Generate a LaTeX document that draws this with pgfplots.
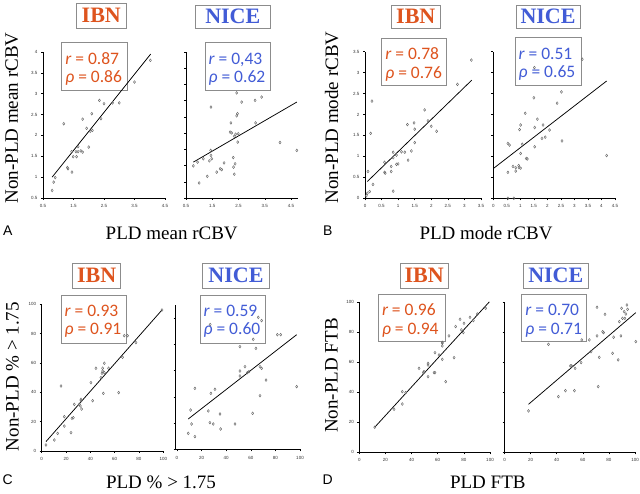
\documentclass[border=0pt]{standalone}
\usepackage{fontspec}
\setmainfont{Liberation Serif}
\setsansfont{Liberation Sans}
\newfontfamily\calibri{Carlito}
\usepackage{pgfplots}
\pgfplotsset{compat=1.18}

\definecolor{ibn}{RGB}{222,84,30}
\definecolor{nice}{RGB}{66,92,214}
\definecolor{boxgray}{RGB}{140,140,140}
\definecolor{dotgray}{RGB}{105,105,105}

\pgfplotsset{
  panel/.style={
    scale only axis, anchor=south west,
    axis lines*=left, axis line style={-, line width=0.7pt},
    enlargelimits=false, clip=false,
    tick align=outside, major tick length=2pt,
    tick style={black, line width=0.5pt},
    tick label style={font=\sffamily\fontsize{4.5}{5}\selectfont, text=black!80},
    xticklabel style={yshift=-1pt},
    /pgf/number format/assume math mode=true,
  },
  pts/.style={only marks, mark=diamond, mark size=1.4pt,
    mark options={draw=dotgray, line width=0.45pt}},
  fit/.style={no marks, black, line width=0.75pt},
}

% stat box: left, top, right, bottom (pixels from top), colour, r, rho
\newcommand\statbox[7]{%
  \draw[boxgray, line width=0.6pt, fill=white] (#1,494-#2) rectangle (#3,494-#4);
  \node[anchor=base west, inner sep=0pt, text=#5, font=\calibri\fontsize{17.5}{18}\selectfont]
    at (#1+3.5,494-#2-21.5) {{\itshape r} = #6};
  \node[anchor=base west, inner sep=0pt, text=#5, font=\calibri\fontsize{17.5}{18}\selectfont]
    at (#1+3.5,494-#2-40) {{\itshape ρ} = #7};
}
% title box: centre x, centre y (pixels from top), width, height, colour, text
\newcommand\titlebox[6]{%
  \node[draw=boxgray, line width=0.6pt, fill=white, inner sep=0pt,
    minimum width=#3pt, minimum height=#4pt, text=#5,
    font=\bfseries\fontsize{22}{22}\selectfont] at (#1,494-#2) {#6};
}

\begin{document}
\begin{tikzpicture}
\useasboundingbox (0,0) rectangle (640pt,494pt);

\begin{scope}[x=1pt,y=1pt]
  \titlebox{101.3}{15.8}{49.3}{25}{ibn}{IBN}
  \titlebox{232.8}{16.7}{74.3}{23.3}{nice}{NICE}
  \titlebox{415.8}{16.7}{48.3}{23.3}{ibn}{IBN}
  \titlebox{548}{16.7}{64}{23.3}{nice}{NICE}
  \titlebox{96.7}{275.8}{48}{25}{ibn}{IBN}
  \titlebox{236}{275.8}{66.6}{25}{nice}{NICE}
  \titlebox{424.2}{275.8}{48.3}{25}{ibn}{IBN}
  \titlebox{555.8}{275.8}{65}{25}{nice}{NICE}

  \statbox{61.7}{42.7}{127.3}{90}{ibn}{0.87}{0.86}
  \statbox{205}{42.7}{270.7}{90}{nice}{0,43}{0.62}
  \statbox{381.7}{38.3}{446}{85}{ibn}{0.78}{0.76}
  \statbox{515}{37.7}{581}{85}{nice}{0.51}{0.65}
  \statbox{61}{295}{126}{343.3}{ibn}{0.93}{0.91}
  \statbox{200}{295}{265.7}{343.3}{nice}{0.59}{0.60}
  \statbox{378.3}{294.3}{445}{341.7}{ibn}{0.96}{0.94}
  \statbox{521.7}{294.3}{586.7}{341.7}{nice}{0.70}{0.71}

  \begin{scope}[font=\fontsize{19}{19}\selectfont]
    \node[rotate=90] at (11.7,494-118) {Non-PLD mean rCBV};
    \node[rotate=90] at (331.7,494-117.5) {Non-PLD mode rCBV};
    \node[rotate=90] at (12.5,494-376.7) {Non-PLD \% > 1.75};
    \node[rotate=90] at (331.5,494-375.5) {Non-PLD FTB};
    \node at (171.7,494-233.5) {PLD mean rCBV};
    \node at (486,494-233) {PLD mode rCBV};
    \node at (161,494-482) {PLD \% > 1.75};
    \node at (487.8,494-482) {PLD FTB};
  \end{scope}
  \begin{scope}[font=\sffamily\fontsize{14}{14}\selectfont]
    \node at (7.8,494-230.5) {A};
    \node at (327.8,494-230.5) {B};
    \node at (7.8,494-480) {C};
    \node at (327.8,494-480) {D};
  \end{scope}
\end{scope}

% A IBN
\begin{axis}[panel, at={(43pt,296pt)}, width=122pt, height=146pt,
  xmin=0.5, xmax=4.5, ymin=0.5, ymax=4,
  xtick={0.5,1.5,2.5,3.5,4.5}, ytick={0.5,1,1.5,2,2.5,3,3.5,4}]
\addplot[pts] coordinates {(0.8,0.68) (0.85,0.88) (0.9,0.99) (1.18,2.28) (1.3,1.23)
  (1.32,1.2) (1.45,1.12) (1.44,1.61) (1.49,1.49) (1.58,1.61) (1.6,1.49) (1.65,1.73)
  (1.65,1.61) (1.74,1.63) (1.8,1.6) (1.8,2.39) (1.93,2.17) (2.0,1.72) (2.05,2.1)
  (2.1,2.52) (2.12,2.12) (2.35,2.84) (2.4,2.4) (2.5,2.76) (2.78,2.78) (3.0,2.78)
  (3.5,3.28) (4.02,3.8)};
\addplot[fit] coordinates {(0.8,1.0) (4.03,3.95)};
\end{axis}

% A NICE
\begin{axis}[panel, at={(186pt,296pt)}, width=111.6pt, height=146pt,
  xmin=0.5, xmax=4.75, ymin=0.5, ymax=4,
  xtick={0.5,1.5,2.5,3.5,4.5},
  ytick={0.5,0.889,1.278,1.667,2.056,2.444,2.833,3.222,3.611,4}, yticklabels={}]
\addplot[pts] coordinates {(0.78,1.27) (0.94,1.36) (1.0,0.86) (1.16,1.44) (1.31,1.02)
  (1.39,1.39) (1.44,1.64) (1.45,1.52) (1.48,1.44) (1.45,2.68) (1.67,1.12) (1.8,1.2)
  (1.86,1.18) (1.95,1.34) (2.18,2.08) (2.21,2.3) (2.24,2.06) (2.3,1.47) (2.31,1.24)
  (2.34,1.98) (2.37,1.32) (2.34,1.07) (2.39,2.03) (2.43,3.02) (2.46,2.52) (2.43,2.47)
  (2.47,1.84) (2.49,2.04) (2.62,2.8) (3.13,2.84) (3.15,2.3) (3.38,2.92) (4.08,1.83)
  (4.72,1.64)};
\addplot[fit] coordinates {(0.78,1.36) (4.72,2.8)};
\end{axis}

% B IBN
\begin{axis}[panel, at={(365pt,295.7pt)}, width=116pt, height=146.6pt,
  xmin=0, xmax=3.5, ymin=0, ymax=3.5,
  xtick={0,0.5,1,1.5,2,2.5,3,3.5}, ytick={0,0.5,1,1.5,2,2.5,3,3.5}]
\addplot[pts] coordinates {(0.04,0.06) (0.07,0.12) (0.09,0.64) (0.14,0.16) (0.17,1.55)
  (0.21,2.32) (0.24,0.33) (0.59,0.86) (0.59,0.62) (0.61,0.6) (0.79,0.76) (0.79,0.64)
  (0.85,1.1) (0.85,0.97) (0.85,0.17) (0.95,1.03) (0.95,0.81) (1.0,0.82) (1.1,1.11)
  (1.2,1.1) (1.28,1.76) (1.3,0.91) (1.4,1.13) (1.48,1.8) (1.5,1.65) (1.5,1.33)
  (1.8,2.11) (1.9,1.85) (2.0,1.72) (2.16,1.6) (2.79,2.72) (3.21,3.3)};
\addplot[fit] coordinates {(0.07,0.4) (3.22,2.82)};
\end{axis}

% B NICE
\begin{axis}[panel, at={(493.3pt,295.7pt)}, width=121.7pt, height=146.6pt,
  xmin=0, xmax=4.5, ymin=0, ymax=3.5,
  xtick={0,0.5,1,1.5,2,2.5,3,3.5,4,4.5}, ytick={0,0.5,1,1.5,2,2.5,3,3.5}, yticklabels={}]
\addplot[pts] coordinates {(0.54,1.31) (0.6,1.27) (0.54,0.62) (0.54,0.0) (0.76,0.0)
  (0.73,0.76) (0.83,0.65) (0.83,0.73) (0.94,0.78) (0.95,0.73) (1.01,0.72) (0.97,1.64)
  (1.01,1.75) (1.01,1.07) (1.07,1.29) (1.18,2.03) (1.22,0.95) (1.26,0.94) (1.5,2.4)
  (1.53,1.69) (1.53,1.23) (1.63,1.89) (1.8,1.43) (1.84,1.75) (1.92,1.46) (2.08,1.63)
  (2.36,2.27) (2.52,2.54) (2.54,1.37) (3.29,3.32) (4.19,1.02) (1.52,3.12)};
\addplot[fit] coordinates {(0.02,0.72) (4.19,2.8)};
\end{axis}

% C IBN
\begin{axis}[panel, at={(41.7pt,43pt)}, width=121.6pt, height=146.7pt,
  xmin=0, xmax=100, ymin=0, ymax=100,
  xtick={0,20,40,60,80,100}, ytick={0,20,40,60,80,100}]
\addplot[pts] coordinates {(3.5,4.1) (10.4,7.5) (13.1,12) (15.9,44.3) (18.6,17)
  (18.6,23.4) (24.1,12.5) (24.9,22.3) (26,22.7) (26.8,31.8) (30.9,31.8) (31.8,30.7)
  (32.3,35.2) (32.3,34.3) (32.8,28.6) (40.5,46.6) (41.9,34.3) (44.6,56.4) (48.7,50)
  (49.6,53) (50.1,56.4) (50.1,54.5) (51.5,59.8) (50.7,39.3) (51.5,53.4) (55,56.4)
  (63.3,39.8) (66.5,63.9) (67.9,78.6) (70.6,78.6) (77.5,73.9) (98.9,96.1)};
\addplot[fit] coordinates {(3.5,6.4) (98.9,96.1)};
\end{axis}

% C NICE
\begin{axis}[panel, at={(175.7pt,44.5pt)}, width=124.3pt, height=144.65pt,
  xmin=-1, xmax=100, ymin=0, ymax=110,
  xtick={0,20,40,60,80,100}, ytick={0,20,40,60,80,100}, yticklabels={}]
\addplot[pts] coordinates {(9.2,12.3) (11.1,30) (11.9,19.4) (14.6,46.5) (14.6,9.8)
  (25.5,29.3) (26.8,20.4) (27.6,42.7) (29.5,19.4) (30.9,45.8) (35,27) (35.5,15.6)
  (47.2,19.4) (51.2,78.2) (51.2,59.7) (51.2,55.9) (55.3,63) (57.2,58.4) (58.5,59.2)
  (61.5,27.5) (62,83.8) (64.2,76.9) (66.1,100.5) (67.5,63) (68.8,98) (68.8,61.7)
  (67.5,40.9) (72.4,52.8) (81.6,87.3) (84.3,87.3) (97.3,47.8) (27,95)};
\addplot[fit] coordinates {(9.2,23.2) (97.3,87.3)};
\end{axis}

% D IBN
\begin{axis}[panel, at={(359.3pt,41.7pt)}, width=130.7pt, height=150pt,
  xmin=0, xmax=100, ymin=0, ymax=100,
  xtick={0,20,40,60,80,100}, ytick={0,20,40,60,80,100}]
\addplot[pts] coordinates {(11.8,16.7) (26.6,28.7) (32.9,32.2) (32.9,40.4) (35.5,39.8)
  (45.7,56) (49,53.1) (49.5,53.8) (52.6,58.2) (52.6,59.3) (52.6,50.4) (57.2,53.1)
  (57.9,53.1) (57.9,66.4) (61,64.9) (63.5,62) (63.5,72.7) (63.5,70.9) (63.5,73.3)
  (66.1,47.1) (68.6,77.6) (72.5,63.1) (73.7,83.8) (77.1,88.7) (78.1,81.6) (79.6,79.8)
  (80.1,86) (84.7,90) (87.3,87.8) (90.3,92.2) (96.7,96)};
\addplot[fit] coordinates {(11.8,16.7) (99.5,100.3)};
\end{axis}

% D NICE
\begin{axis}[panel, at={(504.5pt,41.7pt)}, width=130.5pt, height=150pt,
  xmin=0, xmax=100, ymin=0, ymax=100,
  xtick={0,20,40,60,80,100}, ytick={0,20,40,60,80,100}, yticklabels={}]
\addplot[pts] coordinates {(18.4,27.6) (33.7,72) (41.3,37.1) (46.7,41.1) (50.5,57.6)
  (51.5,57.6) (53.6,41.1) (54.1,56) (58.7,59.8) (59.2,74.9) (65,74.9) (66.3,67.1)
  (70.9,96.7) (70.9,77.6) (71.8,43.8) (72.6,63.3) (75.2,80.4) (75.9,79.8) (77,92)
  (83.6,76.7) (82.8,66) (87.1,61.6) (88,87.1) (89.2,77.6) (89.7,96) (90.4,89.3)
  (91.7,93.8) (93,92.2) (93.8,98.2) (94.3,95.3) (92.2,89.3) (100.6,73.8)};
\addplot[fit] coordinates {(18.4,32) (100.6,93.1)};
\end{axis}
\end{tikzpicture}
\end{document}
